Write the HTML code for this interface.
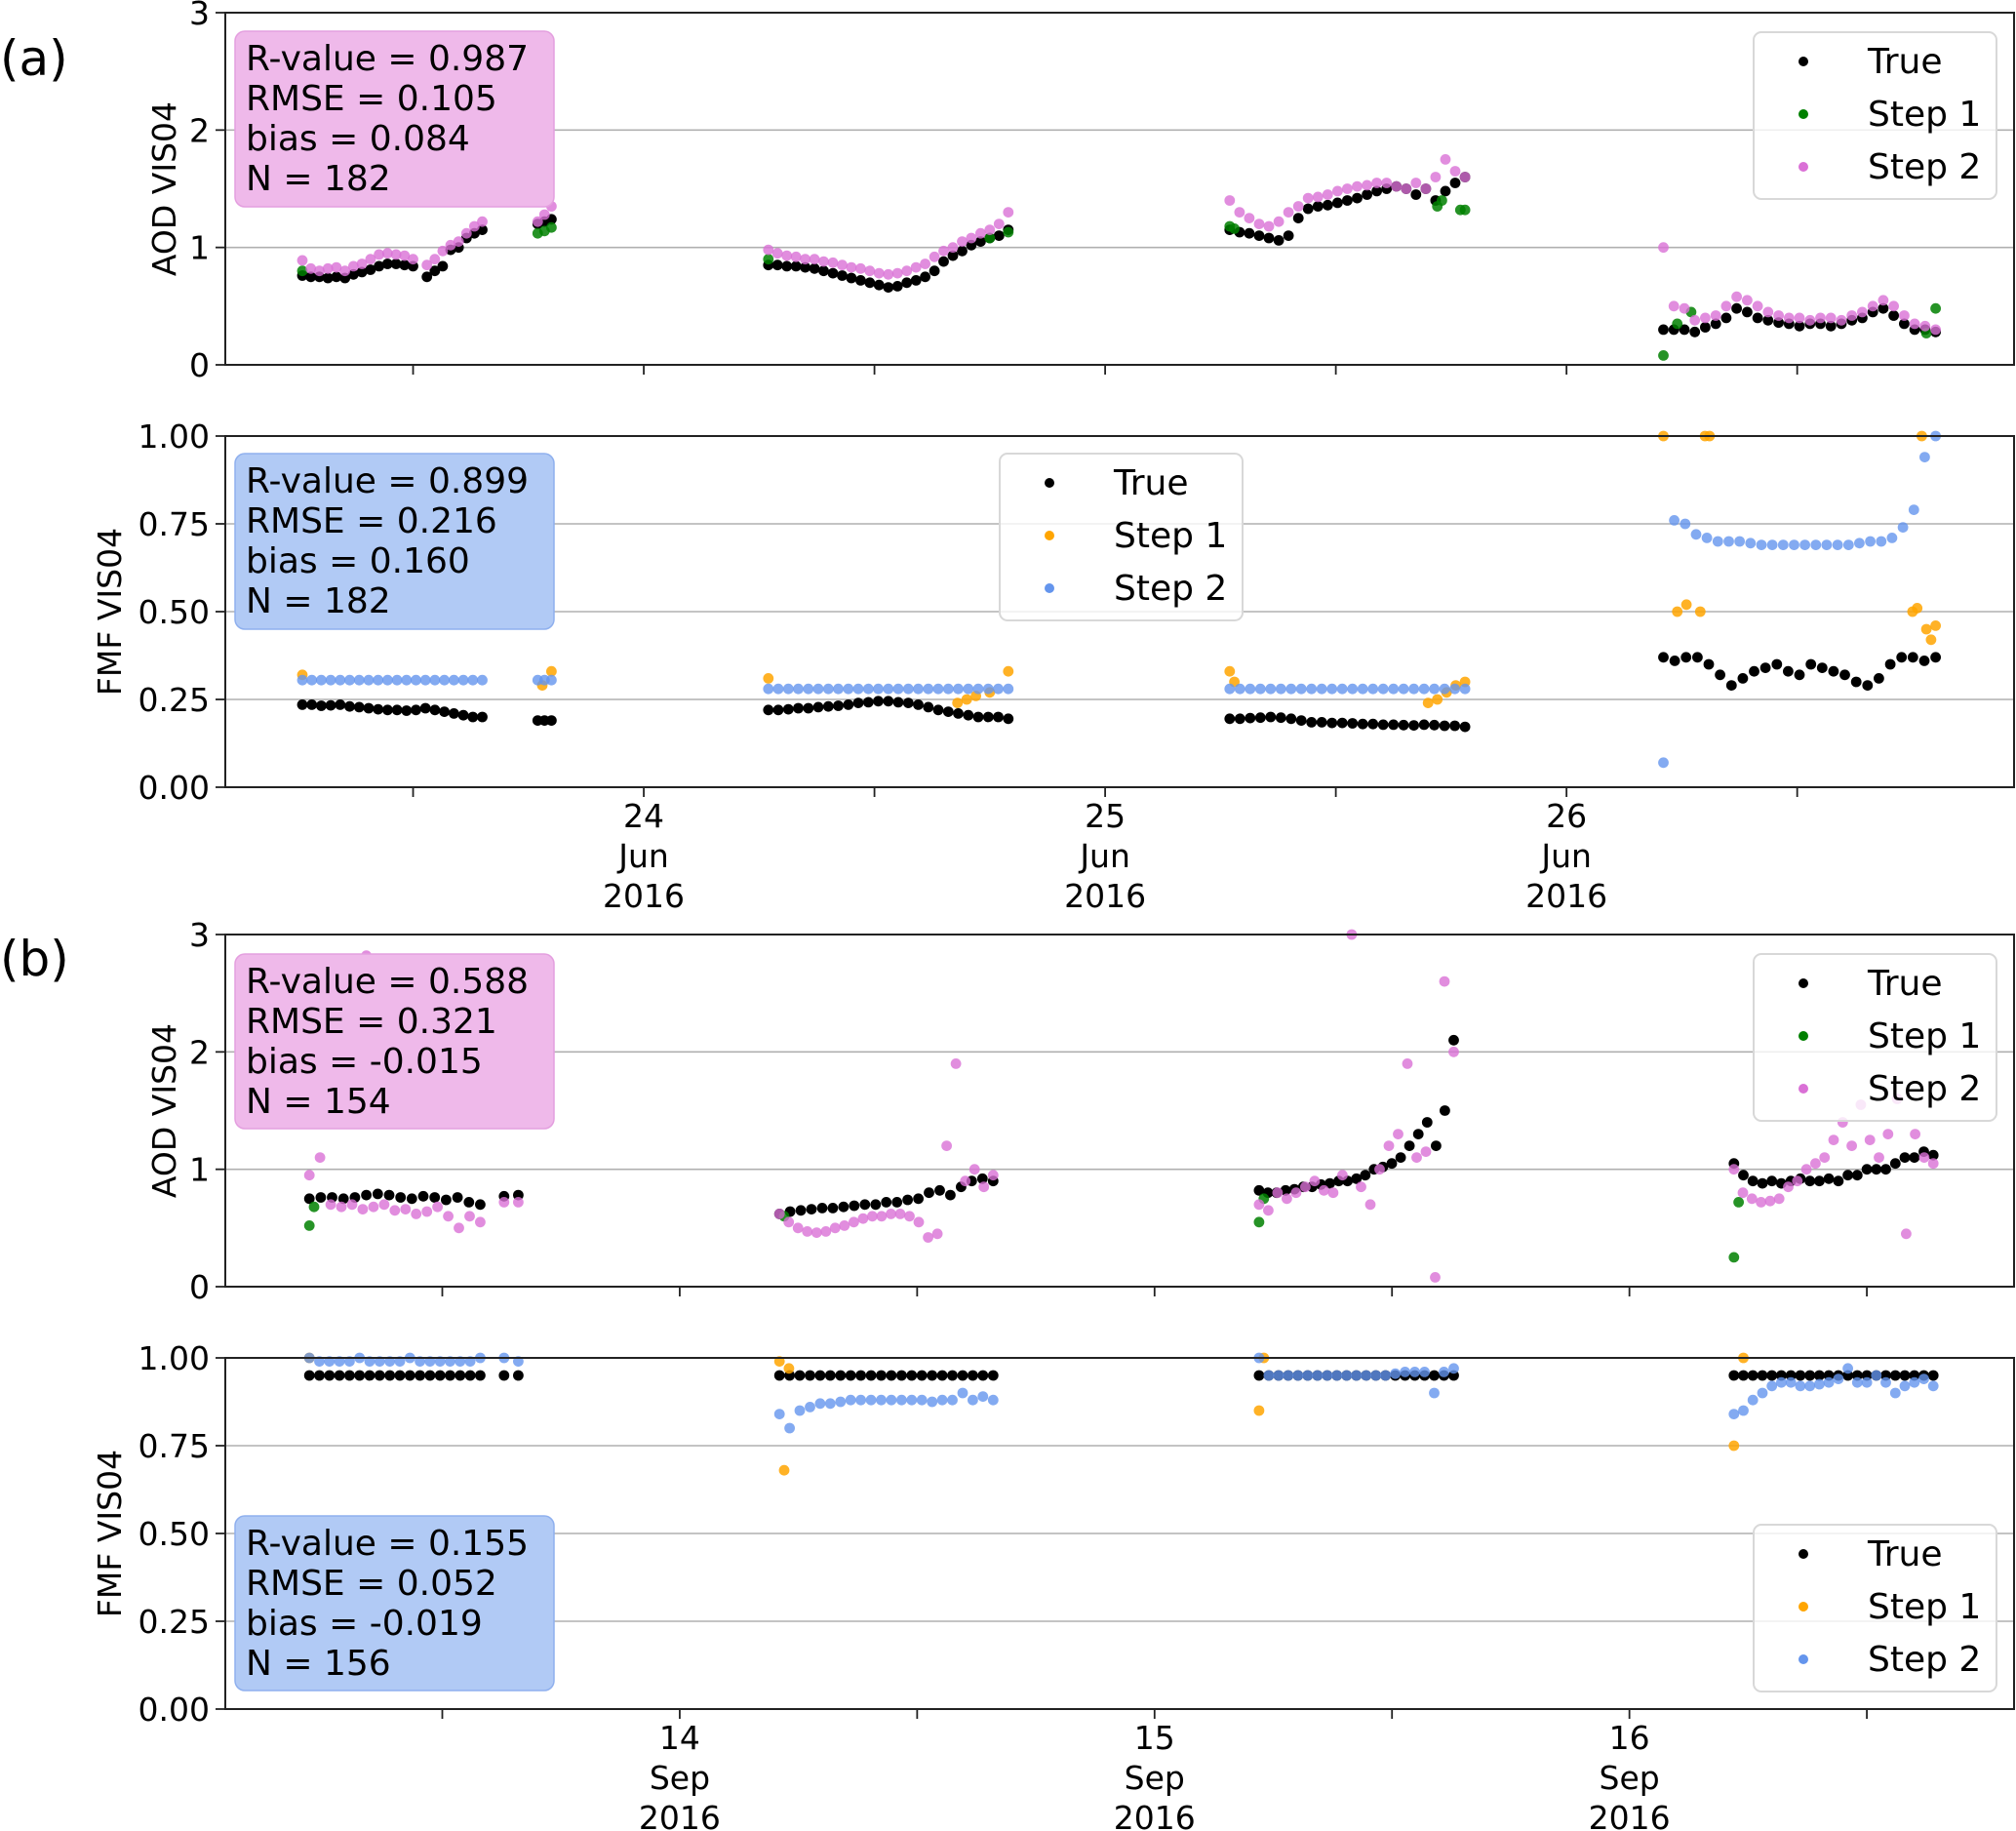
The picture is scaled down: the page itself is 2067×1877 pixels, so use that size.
<!DOCTYPE html>
<html><head><meta charset="utf-8"><title>AOD / FMF time series</title>
<style>
html,body{margin:0;padding:0;background:#fff;}
svg{display:block;font-family:"DejaVu Sans","Liberation Sans",sans-serif;}
</style></head>
<body>
<svg id="fig" xmlns="http://www.w3.org/2000/svg" width="2067" height="1877" viewBox="0 0 2067 1877">
<rect x="0" y="0" width="2067" height="1877" fill="#fff"/>
</svg>
<script>
// ---------- DATA ----------
// groups: [startDay, endDay, values]  (evenly sampled within each group)
const aAodTrue=[[23.26,23.50,[0.76,0.75,0.75,0.74,0.75,0.74,0.77,0.79,0.81,0.84,0.86,0.86,0.85,0.84]],[23.53,23.65,[0.75,0.80,0.84,0.98,1.00,1.08,1.12,1.15]],[23.77,23.80,[1.20,1.22,1.24]],
 [24.27,24.79,[0.85,0.85,0.84,0.84,0.83,0.82,0.80,0.78,0.76,0.74,0.72,0.70,0.68,0.66,0.67,0.70,0.72,0.75,0.80,0.88,0.93,0.97,1.02,1.05,1.08,1.10,1.15]],
 [25.27,25.78,[1.15,1.13,1.12,1.10,1.08,1.06,1.10,1.25,1.33,1.35,1.36,1.38,1.40,1.42,1.45,1.48,1.50,1.52,1.50,1.45,1.50,1.40,1.48,1.55,1.60]],
 [26.21,26.80,[0.30,0.30,0.30,0.28,0.32,0.35,0.40,0.48,0.45,0.40,0.38,0.36,0.35,0.33,0.35,0.35,0.33,0.35,0.38,0.40,0.45,0.48,0.42,0.35,0.30,0.30,0.28]]];
const aAodStep2=[[23.26,23.50,[0.89,0.82,0.80,0.82,0.83,0.80,0.84,0.86,0.90,0.94,0.95,0.94,0.93,0.90]],[23.53,23.65,[0.85,0.90,0.97,1.02,1.05,1.12,1.18,1.22]],[23.77,23.80,[1.22,1.28,1.35]],
 [24.27,24.79,[0.98,0.95,0.93,0.92,0.90,0.90,0.88,0.87,0.85,0.83,0.82,0.80,0.78,0.77,0.78,0.80,0.83,0.86,0.92,0.97,1.00,1.05,1.08,1.12,1.15,1.20,1.30]],
 [25.27,25.78,[1.40,1.30,1.25,1.20,1.18,1.22,1.30,1.35,1.42,1.43,1.45,1.48,1.50,1.52,1.53,1.55,1.55,1.52,1.50,1.55,1.50,1.60,1.75,1.65,1.60]],
 [26.21,26.80,[1.00,0.50,0.48,0.38,0.40,0.42,0.50,0.58,0.55,0.50,0.45,0.42,0.40,0.40,0.38,0.40,0.40,0.38,0.42,0.45,0.50,0.55,0.50,0.42,0.35,0.33,0.30]]];
const aAodStep1T=[23.26,23.77,23.785,23.80,24.27,24.75,24.79,25.27,25.28,25.72,25.73,25.77,25.78,26.21,26.24,26.27,26.78,26.80];
const aAodStep1V=[0.80,1.12,1.14,1.17,0.90,1.08,1.13,1.18,1.16,1.35,1.40,1.32,1.32,0.08,0.35,0.45,0.27,0.48];

const aFmfTrue=[[23.26,23.65,[0.235,0.235,0.232,0.233,0.235,0.23,0.228,0.225,0.222,0.22,0.22,0.218,0.22,0.225,0.22,0.215,0.21,0.205,0.20,0.20]],[23.77,23.80,[0.19,0.19,0.19]],
 [24.27,24.79,[0.22,0.22,0.222,0.225,0.225,0.228,0.23,0.232,0.235,0.24,0.242,0.245,0.245,0.242,0.24,0.235,0.228,0.22,0.215,0.21,0.205,0.20,0.20,0.20,0.195]],
 [25.27,25.78,[0.195,0.195,0.197,0.198,0.20,0.198,0.195,0.19,0.185,0.185,0.183,0.183,0.182,0.18,0.18,0.178,0.178,0.177,0.176,0.178,0.177,0.175,0.175,0.172]],
 [26.21,26.80,[0.37,0.36,0.37,0.37,0.35,0.32,0.29,0.31,0.33,0.34,0.35,0.33,0.32,0.35,0.34,0.33,0.32,0.30,0.29,0.31,0.35,0.37,0.37,0.36,0.37]]];
const aFmfStep2=[[23.26,23.65,[0.305,0.305,0.305,0.305,0.305,0.305,0.305,0.305,0.305,0.305,0.305,0.305,0.305,0.305,0.305,0.305,0.305,0.305,0.305,0.305]],[23.77,23.80,[0.305,0.305,0.305]],
 [24.27,24.79,[0.28,0.28,0.28,0.28,0.28,0.28,0.28,0.28,0.28,0.28,0.28,0.28,0.28,0.28,0.28,0.28,0.28,0.28,0.28,0.28,0.28,0.28,0.28,0.28,0.28]],
 [25.27,25.78,[0.28,0.28,0.28,0.28,0.28,0.28,0.28,0.28,0.28,0.28,0.28,0.28,0.28,0.28,0.28,0.28,0.28,0.28,0.28,0.28,0.28,0.28,0.28,0.28]],
 [26.21,26.80,[0.07,0.76,0.75,0.72,0.71,0.70,0.70,0.70,0.695,0.69,0.69,0.69,0.69,0.69,0.69,0.69,0.69,0.69,0.695,0.70,0.70,0.71,0.74,0.79,0.94,1.00]]];
const aFmfStep1T=[23.26,23.78,23.80,24.27,24.68,24.70,24.72,24.75,24.79,25.27,25.28,25.70,25.72,25.74,25.76,25.78,26.21,26.24,26.26,26.29,26.30,26.31,26.75,26.76,26.77,26.78,26.79,26.80];
const aFmfStep1V=[0.32,0.29,0.33,0.31,0.24,0.25,0.26,0.27,0.33,0.33,0.30,0.24,0.25,0.27,0.29,0.30,1.00,0.50,0.52,0.50,1.00,1.00,0.50,0.51,1.00,0.45,0.42,0.46];

const bAodTrue=[[13.22,13.58,[0.75,0.76,0.76,0.75,0.76,0.78,0.79,0.78,0.76,0.75,0.77,0.76,0.74,0.76,0.72,0.70]],[13.63,13.66,[0.77,0.78]],
 [14.21,14.66,[0.62,0.64,0.65,0.66,0.67,0.67,0.68,0.69,0.70,0.70,0.72,0.72,0.74,0.75,0.80,0.82,0.78,0.85,0.90,0.92,0.90]],
 [15.22,15.63,[0.82,0.80,0.80,0.82,0.83,0.85,0.85,0.87,0.88,0.90,0.90,0.92,0.95,1.00,1.02,1.05,1.10,1.20,1.30,1.40,1.20,1.50,2.10]],
 [16.22,16.64,[1.05,0.95,0.90,0.88,0.90,0.88,0.90,0.92,0.90,0.90,0.92,0.90,0.95,0.95,1.00,1.00,1.00,1.05,1.10,1.10,1.15,1.12]]];
const bAodStep2=[[13.22,13.58,[0.95,1.10,0.70,0.68,0.70,0.66,0.68,0.70,0.65,0.66,0.62,0.64,0.68,0.60,0.50,0.60,0.55]],[13.63,13.66,[0.72,0.72]],
 [14.21,14.66,[0.62,0.55,0.50,0.47,0.46,0.47,0.50,0.52,0.55,0.58,0.60,0.60,0.62,0.62,0.60,0.55,0.42,0.45,1.20,1.90,0.90,1.00,0.85,0.95]],
 [15.22,15.63,[0.70,0.65,0.80,0.75,0.80,0.85,0.90,0.82,0.80,0.95,3.00,0.85,0.70,1.00,1.20,1.30,1.90,1.10,1.15,0.08,2.60,2.00]],
 [16.22,16.64,[1.00,0.80,0.75,0.72,0.73,0.75,0.85,0.90,1.00,1.05,1.10,1.25,1.40,1.20,1.55,1.25,1.10,1.30,1.60,0.45,1.30,1.10,1.05]]];
const bAodStep1T=[13.22,13.23,14.22,15.22,15.23,16.22,16.23];
const bAodStep1V=[0.52,0.68,0.60,0.55,0.75,0.25,0.72];
const bAodOutlierT=[13.34];
const bAodOutlierV=[2.82];

const bFmfTrue=[[13.22,13.58,[0.95,0.95,0.95,0.95,0.95,0.95,0.95,0.95,0.95,0.95,0.95,0.95,0.95,0.95,0.95,0.95,0.95,0.95]],[13.63,13.66,[0.95,0.95]],
 [14.21,14.66,[0.95,0.95,0.95,0.95,0.95,0.95,0.95,0.95,0.95,0.95,0.95,0.95,0.95,0.95,0.95,0.95,0.95,0.95,0.95,0.95,0.95,0.95]],
 [15.22,15.63,[0.95,0.95,0.95,0.95,0.95,0.95,0.95,0.95,0.95,0.95,0.95,0.95,0.95,0.95,0.95,0.95,0.95,0.95,0.95,0.95,0.95]],
 [16.22,16.64,[0.95,0.95,0.95,0.95,0.95,0.95,0.95,0.95,0.95,0.95,0.95,0.95,0.95,0.95,0.95,0.95,0.95,0.95,0.95,0.95,0.95,0.95]]];
const bFmfStep2=[[13.22,13.58,[1.00,0.99,0.99,0.99,0.99,1.00,0.99,0.99,0.99,0.99,1.00,0.99,0.99,0.99,0.99,0.99,0.99,1.00]],[13.63,13.66,[1.00,0.99]],
 [14.21,14.66,[0.84,0.80,0.85,0.86,0.87,0.87,0.875,0.88,0.88,0.88,0.88,0.88,0.88,0.88,0.88,0.875,0.88,0.88,0.90,0.88,0.89,0.88]],
 [15.22,15.63,[1.00,0.95,0.95,0.95,0.95,0.95,0.95,0.95,0.95,0.95,0.95,0.95,0.95,0.95,0.955,0.96,0.96,0.96,0.90,0.96,0.97]],
 [16.22,16.64,[0.84,0.85,0.88,0.90,0.92,0.93,0.93,0.92,0.92,0.925,0.93,0.94,0.97,0.93,0.93,0.95,0.93,0.90,0.92,0.93,0.94,0.92]]];
const bFmfStep1T=[13.22,14.21,14.22,14.23,15.22,15.23,16.22,16.24];
const bFmfStep1V=[1.00,0.99,0.68,0.97,0.85,1.00,0.75,1.00];

const aodTicks=[0,1,2,3];
const aodTickLabels=["0","1","2","3"];
const fmfTicks=[0,0.25,0.5,0.75,1];
const fmfTickLabels=["0.00","0.25","0.50","0.75","1.00"];
const aDays=[24,25,26];
const aDayLabels=["24","25","26"];
const aMonth="Jun";
const bDays=[14,15,16];
const bDayLabels=["14","15","16"];
const bMonth="Sep";
const yearLabel="2016";
const statsA1=["R-value = 0.987","RMSE = 0.105","bias = 0.084","N = 182"];
const statsA2=["R-value = 0.899","RMSE = 0.216","bias = 0.160","N = 182"];
const statsB1=["R-value = 0.588","RMSE = 0.321","bias = -0.015","N = 154"];
const statsB2=["R-value = 0.155","RMSE = 0.052","bias = -0.019","N = 156"];

// ---------- DRAWING ----------
const NS="http://www.w3.org/2000/svg";
const svg=document.getElementById('fig');
function mk(tag,attrs,parent){const e=document.createElementNS(NS,tag);for(const k in attrs)e.setAttribute(k,attrs[k]);(parent||svg).appendChild(e);return e;}
const PL=231,PR=2065;
const xA=d=>PL+(d-23.093)/(26.97-23.093)*(PR-PL);
const xB=d=>PL+(d-13.043)/(16.81-13.043)*(PR-PL);
const COL={t:'#000000',s1g:'#008000',s2v:'#da70d6',s1o:'#ffa500',s2b:'#6495ed'};
const R=5.4;

function expand(groups){const T=[],V=[];groups.forEach(g=>{const n=g[2].length;g[2].forEach((v,i)=>{T.push(n>1?g[0]+(g[1]-g[0])*i/(n-1):g[0]);V.push(v);});});return [T,V];}

function panel(o){
  const g=mk('g',{});
  
  
  const y=v=>o.bottom-(v-o.ymin)/(o.ymax-o.ymin)*(o.bottom-o.top);
  // grid + y ticks
  o.ticks.forEach((t,i)=>{
    const yy=y(t);
    if(i>0&&i<o.ticks.length-1){const gl=mk('line',{x1:PL,x2:PR,y1:yy,y2:yy,stroke:'#b0b0b0','stroke-width':1.6},g);}
    mk('line',{x1:PL-10,x2:PL,y1:yy,y2:yy,stroke:'#222','stroke-width':1.8},g);
    const tl=mk('text',{x:PL-16,y:yy+12,'text-anchor':'end','font-size':33,fill:'#000'},g);
    tl.textContent=o.tickLabels[i];
    
    
  });
  // x ticks (major + half-day minor)
  o.days.forEach((d,i)=>{
    [d,d-0.5].concat(i===o.days.length-1?[d+0.5]:[]).forEach(dd=>{
      const xx=o.xs(dd);mk('line',{x1:xx,x2:xx,y1:o.bottom,y2:o.bottom+10,stroke:'#222','stroke-width':1.8},g);
    });
    if(o.xlabels){
      const xx=o.xs(d);
      [o.dayLabels[i],o.month,yearLabel].forEach((s,k)=>{
        const t=mk('text',{x:xx,y:o.bottom+41+k*41,'text-anchor':'middle','font-size':33},g);
        t.textContent=s;
        
        
      });
    }
  });
  // y label
  const cy=(o.top+o.bottom)/2;
  const yl=mk('text',{x:o.ylx,y:cy,'text-anchor':'middle','font-size':33,transform:`rotate(-90 ${o.ylx} ${cy})`},g);
  yl.textContent=o.ylabel;
  
  
  // series
  const clip=mk('clipPath',{id:'c'+o.name},g);
  mk('rect',{x:PL,y:o.top-6,width:PR-PL,height:o.bottom-o.top+12},clip);
  const sg=mk('g',{'clip-path':`url(#c${o.name})`},g);
  function dots(T,V,col,op,nm){
    const s=mk('g',{fill:col,'fill-opacity':op},sg);
    
    
    T.forEach((t,i)=>{const c=mk('circle',{cx:o.xs(t).toFixed(1),cy:y(V[i]).toFixed(1),r:R},s);
      
      });
  }
  const tr=expand(o.trueG), s2=expand(o.s2G);
  dots(tr[0],tr[1],COL.t,1,'series-true');
  dots(o.s1T,o.s1V,o.c1,0.85,'series-step1');
  dots(s2[0],s2[1],o.c2,0.8,'series-step2');
  if(o.extraT)dots(o.extraT,o.extraV,o.c2,0.8,'series-step2-outlier');
  // frame
  mk('rect',{x:PL,y:o.top,width:PR-PL,height:o.bottom-o.top,fill:'none',stroke:'#222','stroke-width':2},g);
  // stats box
  const sb=mk('g',{},g);
  
  
  mk('rect',{x:241,y:o.sbTop,width:327,height:o.sbH,rx:10,fill:o.sbFill,stroke:o.sbStroke,'stroke-width':1.5},sb);
  o.stats.forEach((s,k)=>{const t=mk('text',{x:252,y:o.sbTop+40+k*41,'font-size':36},sb);t.textContent=s;
    
    });
  // legend
  const lg=mk('g',{},g);
  
  
  mk('rect',{x:o.lgX,y:o.lgY,width:249,height:171,rx:8,fill:'#fff','fill-opacity':0.8,stroke:'#d8d8d8','stroke-width':2},lg);
  [['True',COL.t],['Step 1',o.c1],['Step 2',o.c2]].forEach((e,k)=>{
    const ey=o.lgY+30+k*54;
    const le=mk('g',{},lg);
    
    
    mk('circle',{cx:o.lgX+51,cy:ey,r:5,fill:e[1]},le);
    const t=mk('text',{x:o.lgX+117,y:ey+12,'font-size':36},le);t.textContent=e[0];
  });
}

const PINK='#efb9ea',PINKS='#e49fdf',BLUE='#b1caf5',BLUES='#8fb0ee';
panel({name:'panel-a-aod',top:13,bottom:374,ymin:0,ymax:3,ticks:aodTicks,tickLabels:aodTickLabels,xs:xA,days:aDays,dayLabels:aDayLabels,month:aMonth,xlabels:false,
  ylabel:'AOD VIS04',ylx:180,trueG:aAodTrue,s2G:aAodStep2,s1T:aAodStep1T,s1V:aAodStep1V,c1:COL.s1g,c2:COL.s2v,
  stats:statsA1,sbTop:32,sbH:180,sbFill:PINK,sbStroke:PINKS,lgX:1798,lgY:33});
panel({name:'panel-a-fmf',top:447,bottom:807,ymin:0,ymax:1,ticks:fmfTicks,tickLabels:fmfTickLabels,xs:xA,days:aDays,dayLabels:aDayLabels,month:aMonth,xlabels:true,
  ylabel:'FMF VIS04',ylx:124,trueG:aFmfTrue,s2G:aFmfStep2,s1T:aFmfStep1T,s1V:aFmfStep1V,c1:COL.s1o,c2:COL.s2b,
  stats:statsA2,sbTop:465,sbH:180,sbFill:BLUE,sbStroke:BLUES,lgX:1025,lgY:465});
panel({name:'panel-b-aod',top:958,bottom:1319,ymin:0,ymax:3,ticks:aodTicks,tickLabels:aodTickLabels,xs:xB,days:bDays,dayLabels:bDayLabels,month:bMonth,xlabels:false,
  ylabel:'AOD VIS04',ylx:180,trueG:bAodTrue,s2G:bAodStep2,s1T:bAodStep1T,s1V:bAodStep1V,c1:COL.s1g,c2:COL.s2v,extraT:bAodOutlierT,extraV:bAodOutlierV,
  stats:statsB1,sbTop:978,sbH:179,sbFill:PINK,sbStroke:PINKS,lgX:1798,lgY:978});
panel({name:'panel-b-fmf',top:1392,bottom:1752,ymin:0,ymax:1,ticks:fmfTicks,tickLabels:fmfTickLabels,xs:xB,days:bDays,dayLabels:bDayLabels,month:bMonth,xlabels:true,
  ylabel:'FMF VIS04',ylx:124,trueG:bFmfTrue,s2G:bFmfStep2,s1T:bFmfStep1T,s1V:bFmfStep1V,c1:COL.s1o,c2:COL.s2b,
  stats:statsB2,sbTop:1554,sbH:179,sbFill:BLUE,sbStroke:BLUES,lgX:1798,lgY:1563});

const la=mk('text',{x:0,y:77,'font-size':50});la.textContent='(a)';


const lb=mk('text',{x:0,y:1000,'font-size':50});lb.textContent='(b)';


</script>
</body></html>
